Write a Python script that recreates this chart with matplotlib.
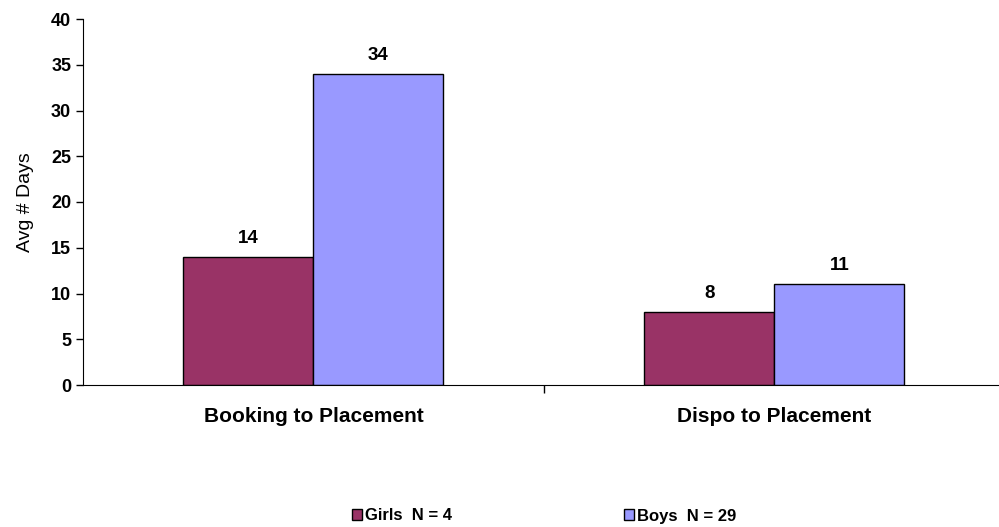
import matplotlib
matplotlib.use("Agg")
import matplotlib.pyplot as plt
import numpy as np

plt.rcParams['font.family'] = ['Liberation Sans', 'DejaVu Sans']

categories = ["Booking to Placement", "Dispo to Placement"]
girls = [14, 8]
boys = [34, 11]
girls_label = "Girls  N = 4"
boys_label = "Boys  N = 29"

fig = plt.figure(figsize=(9.99, 5.27), dpi=100)
ax = fig.add_axes([83 / 999, 142 / 527, 1 - 83 / 999, 366 / 527])

x = np.arange(len(categories))
w = 0.282
b1 = ax.bar(x - w / 2, girls, w, color="#993366", edgecolor="black", linewidth=1, label=girls_label)
b2 = ax.bar(x + w / 2, boys, w, color="#9999FF", edgecolor="black", linewidth=1, label=boys_label)

# value labels above bars
for bars, vals in ((b1, girls), (b2, boys)):
    for r, v in zip(bars, vals):
        ax.text(r.get_x() + r.get_width() / 2, v + 1.1, str(v), ha="center", va="bottom",
                fontsize=13.5, fontweight="bold")

ax.set_xlim(-0.5, 1.487)
ax.set_ylim(0, 40)
ax.set_yticks(range(0, 41, 5))
ax.set_xticks([0.5])
ax.set_xticklabels([""])
ax.set_xticks(x, minor=True)
ax.set_xticklabels(categories, minor=True, fontsize=15, fontweight="bold")
ax.tick_params(axis="x", which="minor", length=0, pad=16)
ax.tick_params(axis="x", which="major", length=6, direction="out", width=1)
ax.tick_params(axis="y", length=5, direction="out", width=1, labelsize=13)
for lbl in ax.get_yticklabels():
    lbl.set_fontweight("bold")
ax.set_ylabel("Avg # Days", fontsize=14, labelpad=12)

for s in ("top", "right"):
    ax.spines[s].set_visible(False)

fig.legend(handles=[b1, b2], loc="center", bbox_to_anchor=(0.545, 11 / 527), ncol=2,
           frameon=False, prop={"weight": "bold", "size": 12}, handlelength=0.6,
           handleheight=0.6, handletextpad=0.2, columnspacing=10.3)

fig.savefig("out.png", dpi=100)
